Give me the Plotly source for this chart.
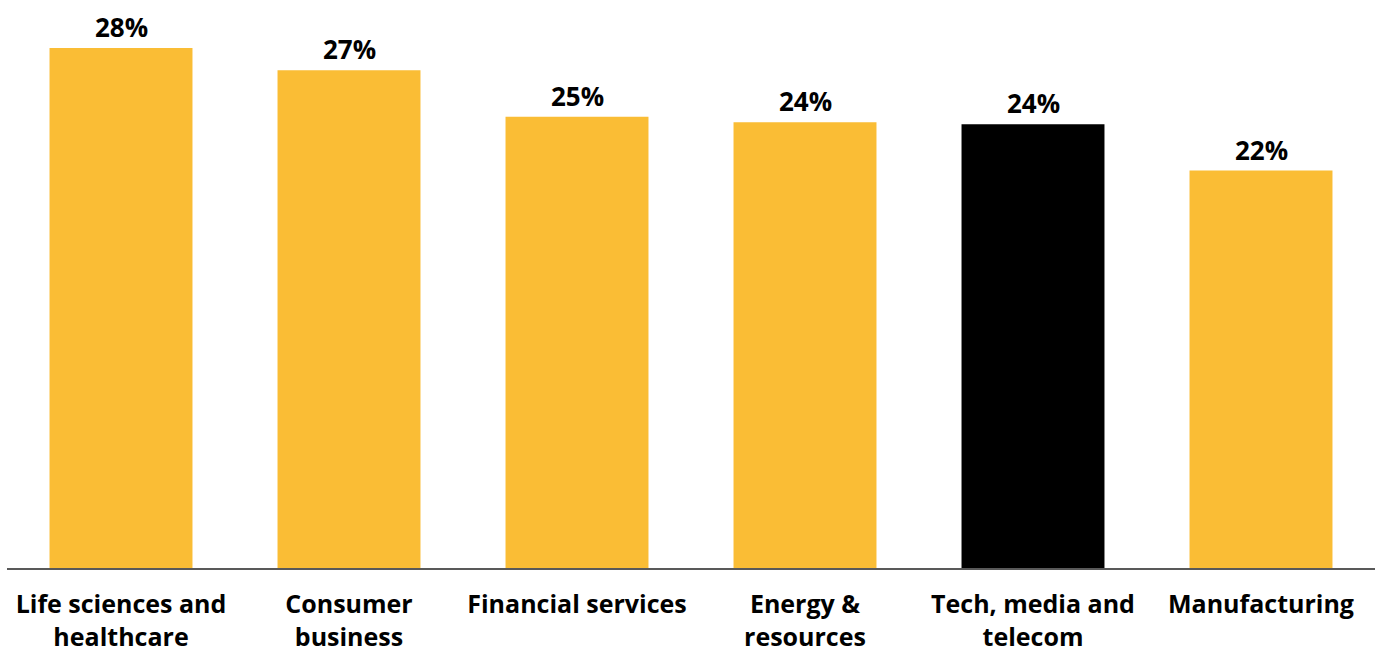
import plotly.graph_objects as go

categories = ["Life sciences and<br>healthcare", "Consumer<br>business", "Financial services",
              "Energy &<br>resources", "Tech, media and<br>telecom", "Manufacturing"]
values = [28.0, 26.8, 24.3, 24.0, 23.9, 21.4]
labels = ["28%", "27%", "25%", "24%", "24%", "22%"]
colors = ["#FABD35", "#FABD35", "#FABD35", "#FABD35", "#000000", "#FABD35"]

FONT = "Open Sans"

fig = go.Figure(go.Bar(
    x=categories, y=values,
    marker=dict(color=colors, line=dict(width=0)),
    cliponaxis=False, hoverinfo="skip",
))

for c, v, t in zip(categories, values, labels):
    fig.add_annotation(
        x=c, y=v, text=t, showarrow=False, yanchor="bottom", yshift=1,
        font=dict(family=FONT, size=26, color="#000000", weight="bold"),
    )

fig.update_layout(
    width=1380, height=646,
    margin=dict(l=7, r=5, t=20, b=78),
    paper_bgcolor="#FFFFFF", plot_bgcolor="#FFFFFF",
    bargap=0.373,
    showlegend=False,
    font=dict(family=FONT, color="#000000"),
)
fig.update_xaxes(
    showline=True, linecolor="#595959", linewidth=2,
    ticks="", showgrid=False, automargin=False,
    tickfont=dict(family=FONT, size=25, color="#000000", weight="bold"),
    ticklabelstandoff=13,
)
fig.update_yaxes(visible=False, range=[0, 29.51], showgrid=False, zeroline=False)

fig.write_html("out.html")
